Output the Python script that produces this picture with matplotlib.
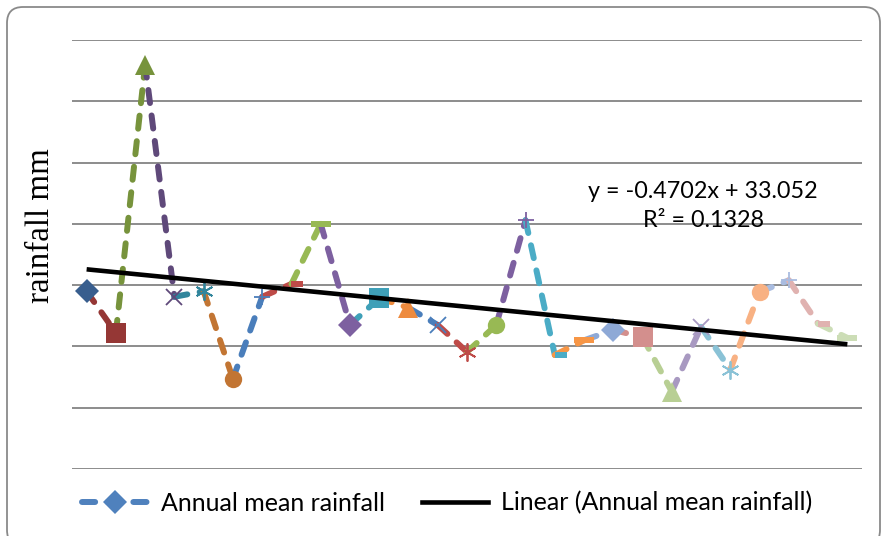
import numpy as np
import matplotlib
matplotlib.use('Agg')
import matplotlib.pyplot as plt
from matplotlib.patches import FancyBboxPatch
from matplotlib.path import Path
from matplotlib.lines import Line2D
from matplotlib.transforms import IdentityTransform

# data (27 yearly values)
years = np.arange(1, 28)
rainfall = [29.0, 22.2, 66.0, 28.1, 29.0, 14.7, 28.1, 30.2, 40.0, 23.5,
            27.9, 26.3, 23.5, 19.1, 23.5, 40.6, 18.6, 21.0, 22.7, 21.5,
            12.6, 23.2, 16.2, 28.9, 30.8, 23.7, 21.4]

# trendline as printed on the chart
slope = -0.4702
intercept = 33.052
r2 = 0.1328

# excel "vary colors by point"
point_colors = ['#385E8E', '#953735', '#77933C', '#5F497A', '#31859C', '#C27533',
                '#4A7EBB', '#BE4B48', '#98B954', '#7D60A0', '#3FA0B8', '#EE8B3E',
                '#4A7EBB', '#BE4B48', '#98B954', '#7D60A0', '#4BACC6', '#F79646',
                '#8EA9D6', '#D38F8D', '#B8CF94', '#A899C1', '#8AC2D6', '#F8B183',
                '#A9BCE0', '#E0B2B0', '#CCDDB6']

short_dash = Path([(0, -0.22), (1, -0.22), (1, 0.22), (0, 0.22), (0, -0.22)])
long_dash = Path([(-1, -0.25), (1, -0.25), (1, 0.25), (-1, 0.25), (-1, -0.25)])
# marker, size, edge width, filled
marker_cycle = [('D', 12, 0, True), ('s', 14, 0, True), ('^', 14, 0, True),
                ('x', 11, 1.3, False), ((6, 2, 0), 13, 1.3, False), ('o', 12.5, 0, True),
                ('+', 12, 1.3, False), (short_dash, 17, 0, True), (long_dash, 15, 0, True)]

lw_series = 4.3
dash_style = (0, (2.2, 2.1))

plt.rcParams['font.family'] = ['Lato', 'DejaVu Sans']

fig = plt.figure(figsize=(8.84, 5.36), dpi=100)
ax = fig.add_axes([72 / 884, 67 / 536, 790 / 884, 429 / 536])

# chart border
border = FancyBboxPatch((7, -10), 873, 539, boxstyle='round,pad=0,rounding_size=16',
                        transform=IdentityTransform(), facecolor='none',
                        edgecolor='#8a8a8a', linewidth=1.3)
fig.patches.append(border)

for g in range(0, 71, 10):
    ax.axhline(g, color='#8c8c8c', lw=1.4, zorder=1)

# segments coloured by their end point
for i in range(1, len(years)):
    ax.plot(years[i - 1:i + 1], rainfall[i - 1:i + 1], color=point_colors[i], lw=lw_series,
            linestyle=dash_style, dash_capstyle='round', zorder=2)

for i, (x, y) in enumerate(zip(years, rainfall)):
    m, ms, mew, filled = marker_cycle[i % 9]
    c = point_colors[i]
    if filled:
        ax.plot(x, y, marker=m, markersize=ms, color=c, markeredgewidth=0, zorder=3)
    else:
        ax.plot(x, y, marker=m, markersize=ms, color=c, markeredgewidth=mew, zorder=3)

trend_x = np.array([years[0], years[-1]])
ax.plot(trend_x, slope * trend_x + intercept, color='black', lw=3.3, zorder=4,
        solid_capstyle='butt')

ax.text(22.07, 45.2, 'y = %.4fx + %.3f' % (slope, intercept), ha='center', va='center',
        fontsize=16.8)
ax.text(22.07, 40.5, 'R² = %.4f' % r2, ha='center', va='center', fontsize=16.8)

ax.set_xlim(0.5, 27.5)
ax.set_ylim(0, 70)
ax.set_xticks([])
ax.set_yticks([])
for s in ax.spines.values():
    s.set_visible(False)

fig.text(41 / 884, 1 - 226 / 536, 'rainfall mm', rotation=90, ha='center', va='center',
         family='Liberation Serif', fontsize=23.8)

h1 = Line2D([], [], color='#4F81BD', lw=lw_series, linestyle=dash_style,
            dash_capstyle='round', marker='D', markersize=12, markeredgewidth=0)
h2 = Line2D([], [], color='black', lw=3.3)
fig.legend([h1, h2], ['Annual mean rainfall', 'Linear (Annual mean rainfall)'],
           loc='center', bbox_to_anchor=(447 / 884, 33 / 536), ncol=2, frameon=False,
           fontsize=18, handlelength=2.64, columnspacing=1.5, handletextpad=0.5)

fig.savefig('out.png', dpi=100)
